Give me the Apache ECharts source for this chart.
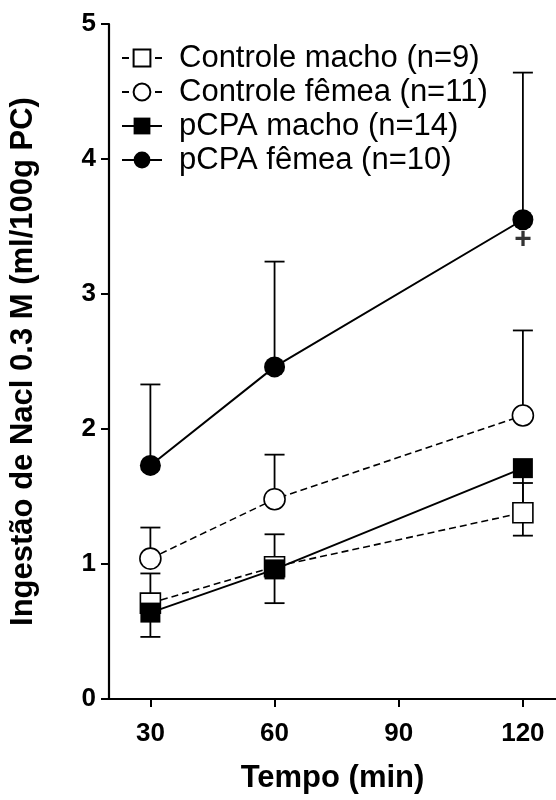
<!DOCTYPE html>
<html>
<head>
<meta charset="utf-8">
<script src="https://cdn.jsdelivr.net/npm/echarts@6/dist/echarts.min.js"></script>
<style>
  html, body { margin: 0; padding: 0; background: #fff; }
  #chart { width: 556px; height: 800px; }
</style>
</head>
<body>
<div id="chart"></div>
<script>
const FONT = 'Arial, "Liberation Sans", sans-serif'

// tempo (min)
const tempos = [30, 60, 120]
const xTicks = [30, 60, 90, 120]

// médias
const controleMacho = [0.71, 0.98, 1.38]
const controleFemea = [1.04, 1.48, 2.10]
const pcpaMacho = [0.64, 0.96, 1.71]
const pcpaFemea = [1.73, 2.46, 3.55]

// erro padrão (barra desenhada só para um lado)
const controleMachoSem = [0.22, 0.24, 0.22]
const controleFemeaSem = [0.23, 0.33, 0.63]
const pcpaMachoSem = [0.18, 0.25, 0.50]
const pcpaFemeaSem = [0.60, 0.78, 1.09]

// marca de significância
const plusMark = [[120, 3.40]]

const groups = [
  { name: 'Controle macho (n=9)', values: controleMacho, sem: controleMachoSem, dir: 1, symbol: 'rect', open: true },
  { name: 'Controle fêmea (n=11)', values: controleFemea, sem: controleFemeaSem, dir: 1, symbol: 'circle', open: true },
  { name: 'pCPA macho (n=14)', values: pcpaMacho, sem: pcpaMachoSem, dir: -1, symbol: 'rect', open: false },
  { name: 'pCPA fêmea (n=10)', values: pcpaFemea, sem: pcpaFemeaSem, dir: 1, symbol: 'circle', open: false },
]

const chart = echarts.init(document.getElementById('chart'))

function errorBars(g) {
  return {
    type: 'custom',
    silent: true,
    z: 1,
    data: tempos.map((t, i) => [t, g.values[i], g.values[i] + g.dir * g.sem[i]]),
    renderItem: (params, api) => {
      const p0 = api.coord([api.value(0), api.value(1)])
      const p1 = api.coord([api.value(0), api.value(2)])
      const half = 10
      return {
        type: 'group',
        children: [
          { type: 'line', shape: { x1: p0[0], y1: p0[1], x2: p1[0], y2: p1[1] }, style: { stroke: '#000', lineWidth: 1.8 } },
          { type: 'line', shape: { x1: p1[0] - half, y1: p1[1], x2: p1[0] + half, y2: p1[1] }, style: { stroke: '#000', lineWidth: 1.8 } },
        ],
      }
    },
  }
}

const lineSeries = groups.map(g => ({
  name: g.name,
  type: 'line',
  z: 3,
  data: tempos.map((t, i) => [t, g.values[i]]),
  symbol: g.symbol,
  symbolSize: g.symbol === 'rect' ? 20 : 21,
  showAllSymbol: true,
  lineStyle: { color: '#000', width: g.open ? 1.6 : 2, type: g.open ? [7, 4] : 'solid' },
  itemStyle: { color: g.open ? '#fff' : '#000', borderColor: '#000', borderWidth: g.open ? 1.6 : 0, opacity: 1 },
  emphasis: { disabled: true },
}))

chart.setOption({
  animation: false,
  grid: { left: 109, right: 0, top: 24, bottom: 101, containLabel: false },
  legend: {
    orient: 'vertical',
    left: 116,
    top: 36,
    itemWidth: 40,
    itemHeight: 21,
    itemGap: 0,
    data: groups.map(g => g.name),
    textStyle: { fontFamily: FONT, fontSize: 31, color: '#000', lineHeight: 34, padding: [0, 0, 0, 12] },
  },
  xAxis: {
    type: 'value',
    min: 20,
    max: 128,
    name: 'Tempo (min)',
    nameLocation: 'middle',
    nameGap: 64,
    nameTextStyle: { fontFamily: FONT, fontSize: 31, fontWeight: 'bold', color: '#000' },
    axisLine: { show: true, lineStyle: { color: '#000', width: 2.2 } },
    axisTick: { show: true, length: 8, lineStyle: { color: '#000', width: 2 }, customValues: xTicks },
    axisLabel: { fontFamily: FONT, fontSize: 26, fontWeight: 'bold', color: '#000', margin: 22, customValues: xTicks },
    splitLine: { show: false },
  },
  yAxis: {
    type: 'value',
    min: 0,
    max: 5,
    interval: 1,
    name: 'Ingestão de Nacl 0.3 M (ml/100g PC)',
    nameLocation: 'middle',
    nameGap: 70,
    nameTextStyle: { fontFamily: FONT, fontSize: 31, fontWeight: 'bold', color: '#000' },
    axisLine: { show: true, lineStyle: { color: '#000', width: 2.2 } },
    axisTick: { show: true, length: 8, lineStyle: { color: '#000', width: 2 } },
    axisLabel: { fontFamily: FONT, fontSize: 26, fontWeight: 'bold', color: '#000', margin: 13 },
    splitLine: { show: false },
  },
  series: [
    ...groups.map(errorBars),
    ...lineSeries,
    {
      type: 'scatter',
      silent: true,
      z: 4,
      data: plusMark,
      symbolSize: 0,
      label: { show: true, position: 'inside', formatter: '+', fontFamily: FONT, fontSize: 30, fontWeight: 'bold', color: '#000' },
    },
  ],
})
</script>
</body>
</html>
